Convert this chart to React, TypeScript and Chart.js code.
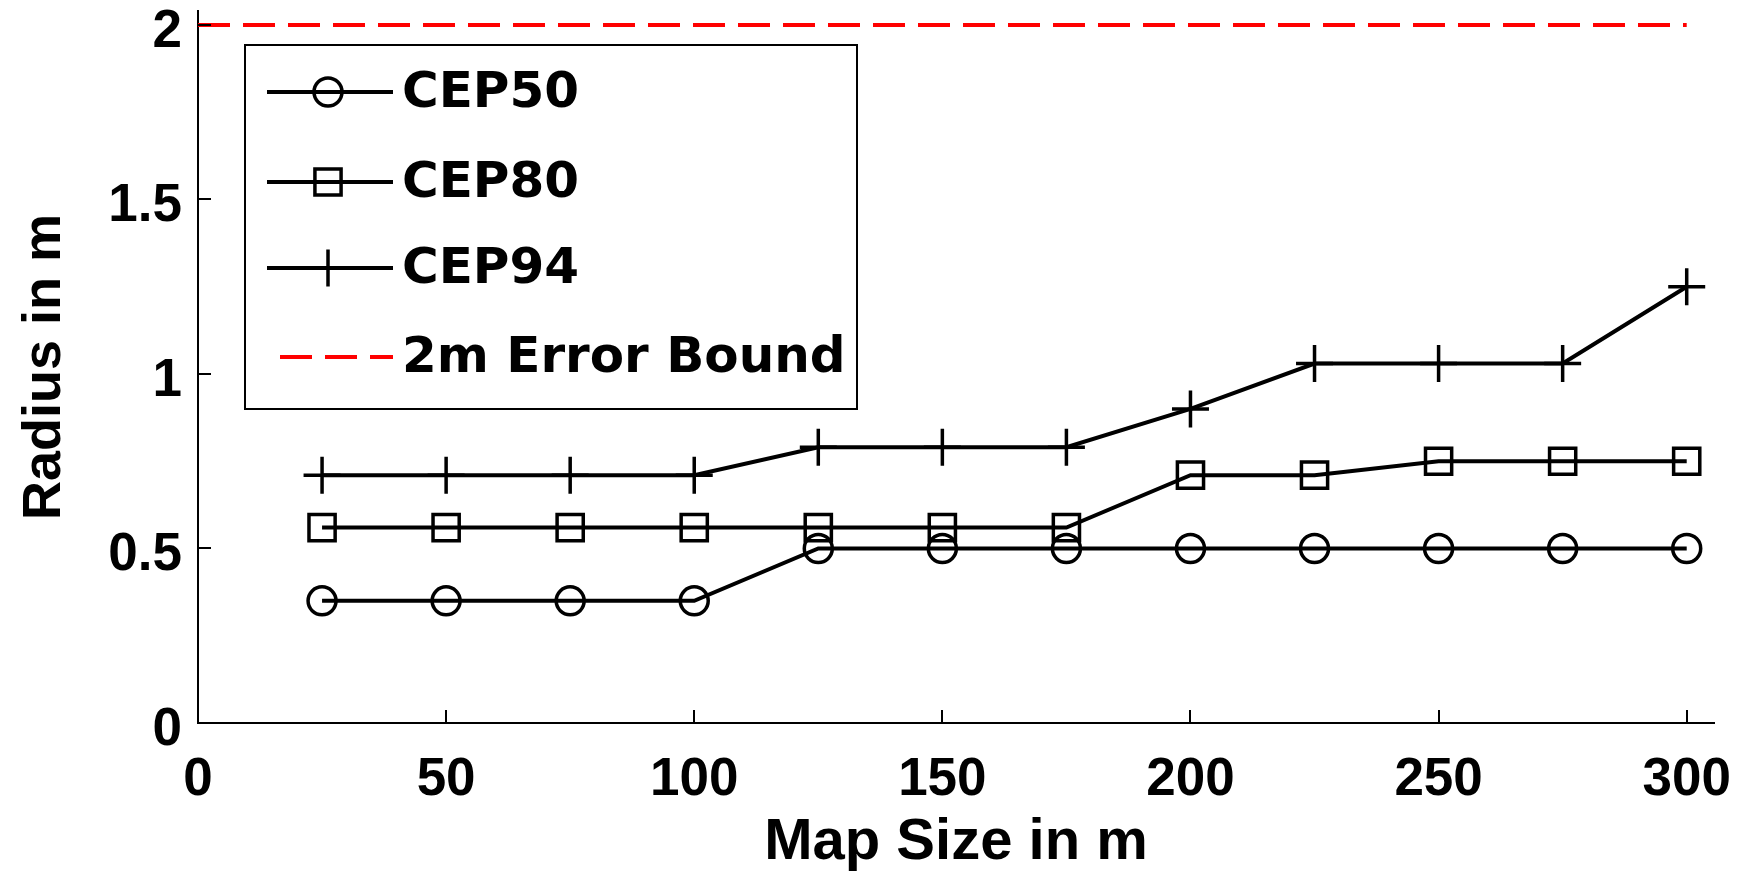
import React, { useEffect, useRef } from "react";
import { Chart, registerables } from "chart.js";

Chart.register(...registerables);

// ---- data ----
const mapSizes = [25, 50, 75, 100, 125, 150, 175, 200, 225, 250, 275, 300];
const cep50 = [0.35, 0.35, 0.35, 0.35, 0.5, 0.5, 0.5, 0.5, 0.5, 0.5, 0.5, 0.5];
const cep80 = [0.56, 0.56, 0.56, 0.56, 0.56, 0.56, 0.56, 0.71, 0.71, 0.75, 0.75, 0.75];
const cep94 = [0.71, 0.71, 0.71, 0.71, 0.79, 0.79, 0.79, 0.9, 1.03, 1.03, 1.03, 1.25];
const boundX = [0, 300];
const boundY = [2, 2];
const xTicks = [0, 50, 100, 150, 200, 250, 300];
const yTicks = [0, 0.5, 1, 1.5, 2];
const seriesLabels = ["CEP50", "CEP80", "CEP94", "2m Error Bound"];
const xTitle = "Map Size in m";
const yTitle = "Radius in m";

const FONT = '"Liberation Sans", Arial, Helvetica, sans-serif';
const LEGEND_FONT = '"DejaVu Sans", "Liberation Sans", sans-serif';

const toPoints = (xs: number[], ys: number[]) => xs.map((x, i) => ({ x, y: ys[i] }));

function drawMarker(ctx: CanvasRenderingContext2D, style: string, x: number, y: number, r: number) {
  ctx.beginPath();
  if (style === "circle") {
    ctx.arc(x, y, r, 0, Math.PI * 2);
  } else if (style === "rect") {
    const s = r * Math.SQRT1_2;
    ctx.rect(x - s, y - s, 2 * s, 2 * s);
  } else if (style === "cross") {
    ctx.moveTo(x, y - r);
    ctx.lineTo(x, y + r);
    ctx.moveTo(x - r, y);
    ctx.lineTo(x + r, y);
  }
  ctx.stroke();
}

const inwardTicks = {
  id: "inwardTicks",
  afterDatasetsDraw(chart: any) {
    const { ctx, chartArea, scales } = chart;
    const len = 13;
    ctx.save();
    ctx.strokeStyle = "#000";
    ctx.lineWidth = 2;
    ctx.beginPath();
    for (const v of xTicks) {
      const px = Math.round(scales.x.getPixelForValue(v));
      ctx.moveTo(px, chartArea.bottom);
      ctx.lineTo(px, chartArea.bottom - len);
    }
    for (const v of yTicks) {
      const py = Math.round(scales.y.getPixelForValue(v));
      ctx.moveTo(chartArea.left, py);
      ctx.lineTo(chartArea.left + len, py);
    }
    ctx.stroke();
    ctx.restore();
  },
};

const boxedLegend = {
  id: "boxedLegend",
  afterDraw(chart: any) {
    const ctx: CanvasRenderingContext2D = chart.ctx;
    const box = { left: 245, top: 45, right: 857, bottom: 409 };
    const rowY = [92, 182, 268, 357];
    const lineX0 = 267;
    const lineX1 = 393;
    const textX = 402;
    ctx.save();
    ctx.fillStyle = "#fff";
    ctx.fillRect(box.left, box.top, box.right - box.left, box.bottom - box.top);
    ctx.strokeStyle = "#000";
    ctx.lineWidth = 2;
    ctx.strokeRect(box.left, box.top, box.right - box.left, box.bottom - box.top);
    chart.data.datasets.forEach((ds: any, i: number) => {
      const y = rowY[i];
      ctx.save();
      ctx.strokeStyle = ds.borderColor;
      ctx.lineWidth = ds.borderWidth;
      const dash = ds.borderDash || [];
      ctx.setLineDash(dash);
      ctx.lineDashOffset = dash.length ? dash[0] : 0;
      ctx.beginPath();
      ctx.moveTo(lineX0, y);
      ctx.lineTo(lineX1, y);
      ctx.stroke();
      ctx.setLineDash([]);
      if (ds.pointRadius > 0) {
        ctx.lineWidth = ds.pointBorderWidth;
        ctx.strokeStyle = ds.pointBorderColor;
        drawMarker(ctx, ds.pointStyle, 328, y, ds.pointRadius);
      }
      ctx.restore();
      ctx.fillStyle = "#000";
      ctx.font = `bold 50px ${LEGEND_FONT}`;
      ctx.textAlign = "left";
      ctx.textBaseline = "middle";
      ctx.fillText(ds.label, textX, y + 2);
    });
    ctx.restore();
  },
};

export default function App() {
  const canvasRef = useRef<HTMLCanvasElement | null>(null);

  useEffect(() => {
    const canvas = canvasRef.current;
    if (!canvas) return;
    const lineCommon = {
      borderColor: "#000",
      borderWidth: 4,
      pointBorderColor: "#000",
      pointBackgroundColor: "rgba(0,0,0,0)",
      pointBorderWidth: 3.5,
      tension: 0,
      fill: false,
    };
    const chart = new Chart(canvas, {
      type: "line",
      data: {
        datasets: [
          { ...lineCommon, label: seriesLabels[0], data: toPoints(mapSizes, cep50), pointStyle: "circle", pointRadius: 14 },
          { ...lineCommon, label: seriesLabels[1], data: toPoints(mapSizes, cep80), pointStyle: "rect", pointRadius: 18.5 },
          { ...lineCommon, label: seriesLabels[2], data: toPoints(mapSizes, cep94), pointStyle: "cross", pointRadius: 18.5 },
          {
            label: seriesLabels[3],
            data: toPoints(boundX, boundY),
            borderColor: "#ff0000",
            borderWidth: 4,
            borderDash: [32, 13],
            pointRadius: 0,
            pointBorderWidth: 0,
            tension: 0,
            fill: false,
          },
        ] as any,
      },
      options: {
        responsive: false,
        maintainAspectRatio: false,
        animation: false,
        devicePixelRatio: 1,
        layout: { autoPadding: false, padding: { left: 0, right: 31, top: 11, bottom: 0 } },
        plugins: { legend: { display: false }, tooltip: { enabled: false } },
        scales: {
          x: {
            type: "linear",
            min: 0,
            max: 305.5,
            grid: { display: false, drawTicks: false },
            border: { display: true, color: "#000", width: 2 },
            afterBuildTicks: (s: any) => {
              s.ticks = xTicks.map((v) => ({ value: v }));
            },
            afterFit: (s: any) => {
              s.height = 157;
              s.paddingLeft = 0;
              s.paddingRight = 0;
              s.paddingTop = 0;
              s.paddingBottom = 0;
            },
            ticks: {
              color: "#000",
              font: { family: FONT, size: 53, weight: "bold" },
              padding: 26,
              maxRotation: 0,
              autoSkip: false,
              callback: (v: any) => String(v),
            },
            title: {
              display: true,
              text: xTitle,
              color: "#000",
              font: { family: FONT, size: 58, weight: "bold" },
              padding: { top: 0, bottom: 2 },
            },
          },
          y: {
            type: "linear",
            min: 0,
            max: 2.04,
            grid: { display: false, drawTicks: false },
            border: { display: true, color: "#000", width: 2 },
            afterBuildTicks: (s: any) => {
              s.ticks = yTicks.map((v) => ({ value: v }));
            },
            afterFit: (s: any) => {
              s.width = 198;
              s.paddingTop = 0;
              s.paddingBottom = 0;
              s.paddingLeft = 0;
              s.paddingRight = 0;
            },
            ticks: {
              color: "#000",
              font: { family: FONT, size: 53, weight: "bold" },
              padding: 16,
              labelOffset: 7,
              autoSkip: false,
              callback: (v: any) => String(v),
            },
            title: {
              display: true,
              text: yTitle,
              color: "#000",
              font: { family: FONT, size: 54, weight: "bold" },
              padding: { top: 13, bottom: 0 },
            },
          },
        },
      } as any,
      plugins: [inwardTicks, boxedLegend],
    });
    return () => chart.destroy();
  }, []);

  return (
    <div style={{ position: "absolute", left: 0, top: 0, width: 1745, height: 880, background: "#fff" }}>
      <canvas ref={canvasRef} width={1745} height={880} style={{ display: "block", width: 1745, height: 880 }} />
    </div>
  );
}
